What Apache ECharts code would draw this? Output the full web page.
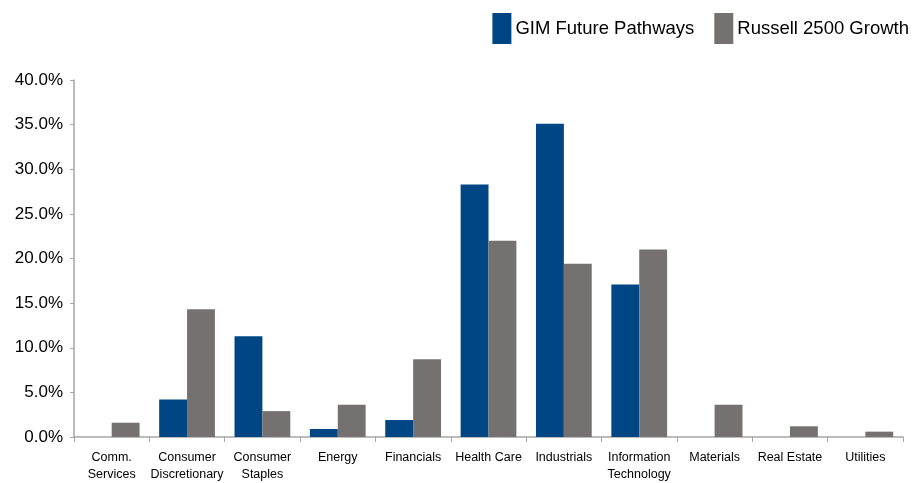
<!DOCTYPE html>
<html>
<head>
<meta charset="utf-8">
<script src="https://cdn.jsdelivr.net/npm/echarts@6/dist/echarts.min.js"></script>
<style>html,body{margin:0;padding:0;background:#fff;}#c{width:914px;height:483px;}</style>
</head>
<body>
<div id="c"></div>
<script>
var categories = ["Comm.\nServices", "Consumer\nDiscretionary", "Consumer\nStaples", "Energy", "Financials", "Health Care", "Industrials", "Information\nTechnology", "Materials", "Real Estate", "Utilities"];
var gimValues = [0, 4.2, 11.3, 0.9, 1.9, 28.3, 35.1, 17.1, 0, 0, 0];
var russellValues = [1.6, 14.3, 2.9, 3.6, 8.7, 22.0, 19.4, 21.0, 3.6, 1.2, 0.6];
var yTicks = [0, 5, 10, 15, 20, 25, 30, 35, 40];

var chart = echarts.init(document.getElementById('c'));
chart.setOption({
  animation: false,
  backgroundColor: '#ffffff',
  legend: {
    top: 8, right: 0,
    itemWidth: 19, itemHeight: 31, itemGap: 20,
    icon: 'rect',
    textStyle: {fontFamily: 'Liberation Sans', fontSize: 18.5, color: '#000', padding: [0, 0, 0, -1]},
    data: ['GIM Future Pathways', 'Russell 2500 Growth']
  },
  grid: {left: 74, right: 11, top: 80, bottom: 45},
  xAxis: {
    type: 'category',
    data: categories,
    axisLine: {lineStyle: {color: '#a6a6a6', width: 1.5}},
    axisTick: {show: true, alignWithLabel: false, length: 5, lineStyle: {color: '#a6a6a6'}},
    axisLabel: {interval: 0, fontFamily: 'Liberation Sans', fontSize: 12.5, color: '#000', lineHeight: 17, margin: 12}
  },
  yAxis: {
    type: 'value', min: 0, max: 40, interval: 5,
    axisLine: {show: true, lineStyle: {color: '#a6a6a6', width: 1.5}},
    axisTick: {show: true, length: 4, lineStyle: {color: '#a6a6a6'}},
    splitLine: {show: false},
    axisLabel: {fontFamily: 'Liberation Sans', fontSize: 17, color: '#000', margin: 11,
      formatter: function(v){ return yTicks.indexOf(v) >= 0 ? v.toFixed(1) + '%' : ''; }}
  },
  series: [
    {name: 'GIM Future Pathways', type: 'bar', data: gimValues, barGap: '0%', barCategoryGap: '26%',
      itemStyle: {color: '#004685'}},
    {name: 'Russell 2500 Growth', type: 'bar', data: russellValues, barGap: '0%', barCategoryGap: '26%',
      itemStyle: {color: '#767171'}}
  ]
});
</script>
</body>
</html>
